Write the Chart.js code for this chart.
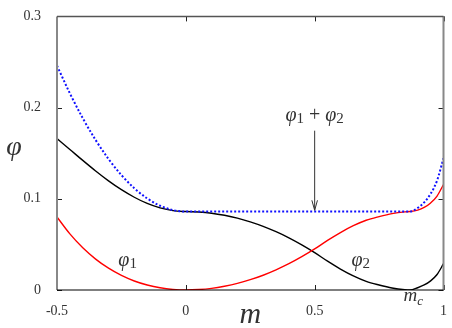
<!DOCTYPE html>
<html>
<head>
<meta charset="utf-8">
<script src="https://cdn.jsdelivr.net/npm/chart.js@4.4.1/dist/chart.umd.min.js"></script>
<style>
  html, body { margin: 0; padding: 0; background: #fff; }
  canvas { display: block; }
</style>
</head>
<body>
<canvas id="phiChart" width="452" height="328"></canvas>
<script>
// values
const mValues = [-0.5, -0.45, -0.4, -0.35, -0.3, -0.25, -0.2, -0.15, -0.1, -0.05,
    0, 0.05, 0.1, 0.15, 0.2, 0.25, 0.3, 0.35, 0.4, 0.45, 0.5, 0.55, 0.6, 0.65, 0.7, 0.75, 0.8, 0.85,
    0.87, 0.9, 0.925, 0.95, 0.975, 1];
const phi1Values = [0.080, 0.0615, 0.0463, 0.0339, 0.0239, 0.0160, 0.0099, 0.0055, 0.0024, 0.0006,
    0, 0.0005, 0.0018, 0.0041, 0.0072, 0.0113, 0.0162, 0.0221, 0.0288, 0.0365, 0.0450, 0.0544, 0.0630, 0.0705, 0.0765, 0.0805, 0.0838, 0.0857,
    0.0860, 0.0875, 0.0905, 0.0955, 0.1030, 0.1157];
const phi2Values = [0.166, 0.1541, 0.1421, 0.1305, 0.1197, 0.1100, 0.1017, 0.0949, 0.0900, 0.0870,
    0.086, 0.0855, 0.0842, 0.0819, 0.0788, 0.0747, 0.0698, 0.0639, 0.0572, 0.0495, 0.0410, 0.0316, 0.0230, 0.0155, 0.0095, 0.0055, 0.0022, 0.0003,
    0, 0.0025, 0.0055, 0.0100, 0.0170, 0.0288];
const phiSumValues = [0.246, 0.2156, 0.1884, 0.1644, 0.1436, 0.1260, 0.1116, 0.1004, 0.0924, 0.0876,
    0.086, 0.086, 0.086, 0.086, 0.086, 0.086, 0.086, 0.086, 0.086, 0.086, 0.086, 0.086, 0.086, 0.086, 0.086, 0.086, 0.086, 0.086,
    0.086, 0.0900, 0.0960, 0.1055, 0.1200, 0.1445];
const xTickValues = [-0.5, 0, 0.5, 1];
const xTickLabels = ['-0.5', '0', '0.5', '1'];
const yTickValues = [0, 0.1, 0.2, 0.3];
const yTickLabels = ['0', '0.1', '0.2', '0.3'];
const mCritical = 0.883;

const toPoints = (xs, ys) => xs.map((x, i) => ({ x: x, y: ys[i] }));
const serif = "'Liberation Serif', 'DejaVu Serif', serif";
const textColor = '#333';

// draw a few text pieces (italic symbol, subscript...) centred on cx, baseline cy
const drawMath = (ctx, parts, cx, cy) => {
    let total = 0;
    parts.forEach(p => { ctx.font = p.font; p.w = ctx.measureText(p.t).width; total += p.w; });
    let x = cx - total / 2;
    parts.forEach(p => {
        ctx.font = p.font;
        ctx.fillText(p.t, x, cy + (p.dy || 0));
        x += p.w;
    });
};

const frameAndLabels = {
    id: 'frameAndLabels',
    afterDatasetsDraw(chart) {
        const { ctx, chartArea: a, scales: { x, y } } = chart;
        ctx.save();

        // inward tick marks, mirrored like gnuplot
        ctx.strokeStyle = '#222';
        ctx.lineWidth = 1;
        ctx.beginPath();
        yTickValues.forEach(v => {
            const py = Math.round(y.getPixelForValue(v)) + 0.5;
            ctx.moveTo(a.left, py); ctx.lineTo(a.left + 5, py);
            ctx.moveTo(a.right, py); ctx.lineTo(a.right - 5, py);
        });
        xTickValues.forEach(v => {
            const px = Math.round(x.getPixelForValue(v)) + 0.5;
            ctx.moveTo(px, a.bottom); ctx.lineTo(px, a.bottom - 5);
            ctx.moveTo(px, a.top); ctx.lineTo(px, a.top + 5);
        });
        ctx.stroke();

        // frame
        ctx.strokeStyle = '#888';
        ctx.lineWidth = 2;
        ctx.beginPath();
        ctx.moveTo(a.left, a.top); ctx.lineTo(a.left, a.bottom);
        ctx.moveTo(a.right, a.top); ctx.lineTo(a.right, a.bottom);
        ctx.stroke();
        ctx.strokeStyle = '#555';
        ctx.lineWidth = 1.5;
        ctx.beginPath();
        ctx.moveTo(a.left, a.top); ctx.lineTo(a.right, a.top);
        ctx.stroke();
        ctx.strokeStyle = '#000';
        ctx.lineWidth = 1.2;
        ctx.beginPath();
        ctx.moveTo(a.left, a.bottom); ctx.lineTo(a.right, a.bottom);
        ctx.stroke();

        // arrow to the flat part of phi1 + phi2
        const ax = x.getPixelForValue(0.5);
        const aTop = y.getPixelForValue(0.1747);
        const aTip = y.getPixelForValue(0.0874);
        ctx.strokeStyle = '#333';
        ctx.lineWidth = 1;
        ctx.beginPath();
        ctx.moveTo(ax, aTop); ctx.lineTo(ax, aTip);
        ctx.moveTo(ax - 2.8, aTip - 10); ctx.lineTo(ax, aTip); ctx.lineTo(ax + 2.8, aTip - 10);
        ctx.stroke();

        // labels
        ctx.fillStyle = textColor;
        ctx.textBaseline = 'alphabetic';
        const big = `italic 20px ${serif}`;
        const sub = `15px ${serif}`;
        drawMath(ctx, [{ t: 'φ', font: big }, { t: '1', font: sub, dy: 2 }],
            x.getPixelForValue(-0.226), y.getPixelForValue(0.0259));
        drawMath(ctx, [{ t: 'φ', font: big }, { t: '2', font: sub, dy: 2 }],
            x.getPixelForValue(0.679), y.getPixelForValue(0.0259));
        drawMath(ctx, [{ t: 'φ', font: big }, { t: '1', font: sub, dy: 2 }, { t: ' + ', font: `20px ${serif}` },
            { t: 'φ', font: big }, { t: '2', font: sub, dy: 2 }],
            x.getPixelForValue(0.5), y.getPixelForValue(0.1855));
        drawMath(ctx, [{ t: 'm', font: `italic 19px ${serif}` }, { t: 'c', font: `italic 13px ${serif}`, dy: 4 }],
            x.getPixelForValue(mCritical), 301);

        // y axis symbol, kept upright
        ctx.font = `italic 28px ${serif}`;
        ctx.textAlign = 'center';
        ctx.fillText('φ', 14, 155);
        ctx.restore();
    }
};

new Chart(document.getElementById('phiChart'), {
    type: 'line',
    data: {
        datasets: [
            {
                label: 'phi1 + phi2',
                data: toPoints(mValues, phiSumValues),
                borderColor: '#1010ff',
                borderWidth: 2,
                borderDash: [2, 2],
                pointRadius: 0,
                cubicInterpolationMode: 'monotone',
            },
            {
                label: 'phi1',
                data: toPoints(mValues, phi1Values),
                borderColor: '#ff0000',
                borderWidth: 1.4,
                pointRadius: 0,
                cubicInterpolationMode: 'monotone',
            },
            {
                label: 'phi2',
                data: toPoints(mValues, phi2Values),
                borderColor: '#000000',
                borderWidth: 1.4,
                pointRadius: 0,
                cubicInterpolationMode: 'monotone',
            }
        ]
    },
    options: {
        responsive: false,
        animation: false,
        devicePixelRatio: 1,
        layout: { padding: { top: 12, right: 7, left: 0, bottom: 0 } },
        scales: {
            x: {
                type: 'linear',
                min: -0.5,
                max: 1,
                grid: { display: false },
                border: { display: false },
                afterBuildTicks: (scale) => { scale.ticks = xTickValues.map(v => ({ value: v })); },
                afterFit: (scale) => { scale.height = 38; },
                ticks: {
                    autoSkip: false,
                    maxRotation: 0,
                    padding: 5,
                    color: textColor,
                    font: { family: serif, size: 14 },
                    callback: (value, index) => xTickLabels[index],
                },
                title: {
                    display: true,
                    text: 'm',
                    color: textColor,
                    padding: { top: 0, bottom: -2 },
                    font: { family: serif, size: 30, style: 'italic', lineHeight: 1 },
                }
            },
            y: {
                type: 'linear',
                min: 0,
                max: 0.3,
                grid: { display: false },
                border: { display: false },
                afterBuildTicks: (scale) => { scale.ticks = yTickValues.map(v => ({ value: v })); },
                afterFit: (scale) => { scale.width = 57; },
                ticks: {
                    padding: 8,
                    color: textColor,
                    font: { family: serif, size: 14 },
                    callback: (value, index) => yTickLabels[index],
                }
            }
        },
        plugins: {
            legend: { display: false },
            tooltip: { enabled: false },
        }
    },
    plugins: [frameAndLabels]
});
</script>
</body>
</html>
